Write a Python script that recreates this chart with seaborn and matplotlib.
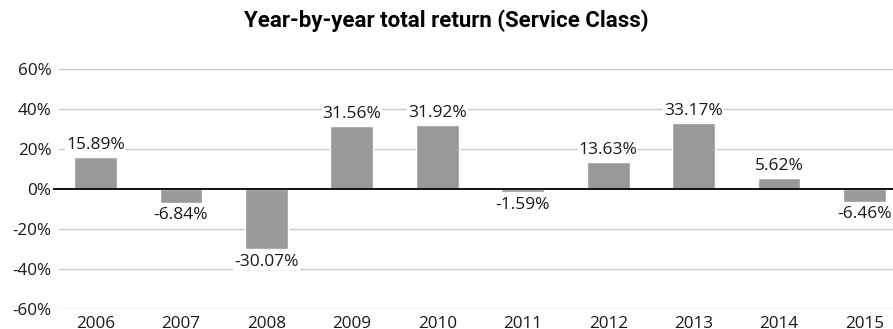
import matplotlib
matplotlib.use("Agg")
import matplotlib.pyplot as plt
from matplotlib import font_manager
import seaborn as sns
import pandas as pd

years = ["2006", "2007", "2008", "2009", "2010", "2011", "2012", "2013", "2014", "2015"]
returns = [15.89, -6.84, -30.07, 31.56, 31.92, -1.59, 13.63, 33.17, 5.62, -6.46]
y_ticks = [-60, -40, -20, 0, 20, 40, 60]
title = "Year-by-year total return (Service Class)"

sns.set_theme(style="white")
names = {f.name for f in font_manager.fontManager.ttflist}
label_font = "Open Sans" if "Open Sans" in names else "DejaVu Sans"
plt.rcParams["font.family"] = [label_font, "DejaVu Sans"]
if "Liberation Sans Narrow" in names:
    title_font, title_size = "Liberation Sans Narrow", 16
else:
    title_font, title_size = "Roboto", 16

df = pd.DataFrame({"year": years, "ret": returns})

fig = plt.figure(figsize=(8.93, 3.29), dpi=100)
W, H = 893, 329
left, right = 52.8, 907.2
top, bottom = 69, 309.3
ax = fig.add_axes([left / W, 1 - bottom / H, (right - left) / W, (bottom - top) / H])

sns.barplot(data=df, x="year", y="ret", color="#999999", saturation=1,
            width=0.5, ax=ax, zorder=3)
ax.set_ylim(-60, 60)
ax.set_xlim(-0.5, len(years) - 0.5)
ax.set_yticks(y_ticks)
ax.set_yticklabels([f"{t}%" for t in y_ticks])
for t in y_ticks:
    if t != 0:
        ax.axhline(t, xmin=6.0 / (right - left), xmax=1, color="#c8c8c8", lw=1.0, zorder=1)
ax.axhline(0, color="black", lw=1.3, zorder=4)
for s in ax.spines.values():
    s.set_visible(False)
ax.tick_params(axis="both", length=0, labelsize=12.3, colors="#1a1a1a")
ax.tick_params(axis="y", pad=1)
ax.tick_params(axis="x", pad=4.5)
ax.set_xlabel("")
ax.set_ylabel("")

for i, v in enumerate(returns):
    if v >= 0:
        ax.annotate(f"{v:.2f}%", (i, v), xytext=(0, 3), textcoords="offset points",
                    ha="center", va="bottom", fontsize=12.5, color="#1a1a1a", zorder=5,
                    bbox=dict(boxstyle="square,pad=0.05", fc="white", ec="none"))
    else:
        ax.annotate(f"{v:.2f}%", (i, v), xytext=(0, -3), textcoords="offset points",
                    ha="center", va="top", fontsize=12.5, color="#1a1a1a", zorder=5,
                    bbox=dict(boxstyle="square,pad=0.05", fc="white", ec="none"))

fig.text(0.5, 1 - 21 / H, title, ha="center", va="center", fontsize=title_size,
         fontweight="bold", family=[title_font, "DejaVu Sans"], color="black")

fig.savefig("out.png", dpi=100)
